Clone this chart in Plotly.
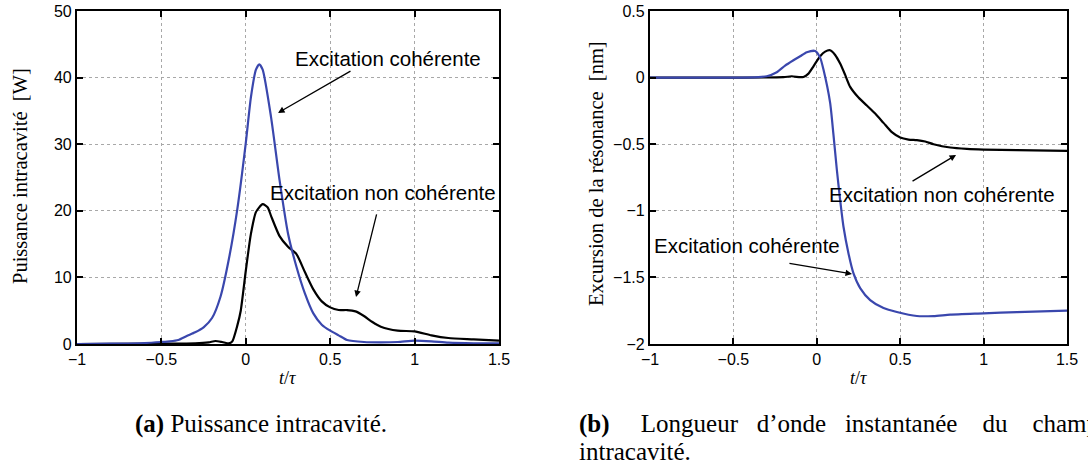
import plotly.graph_objects as go

# ---------------- Data ----------------
# (a) Intracavity power [W]
t_pow_coh = [-1, -0.8, -0.6, -0.5, -0.45, -0.4, -0.35, -0.3, -0.25, -0.2, -0.15, -0.1,
             -0.05, 0, 0.03, 0.06, 0.08, 0.1, 0.15, 0.2, 0.25, 0.3, 0.35, 0.4, 0.45,
             0.5, 0.55, 0.6, 0.7, 0.8, 0.9, 1.0, 1.1, 1.2, 1.35, 1.5]
pow_coh = [0, 0.05, 0.15, 0.3, 0.4, 0.6, 1.2, 1.75, 2.5, 3.9, 7.1, 12.8,
           20.3, 30.2, 37.0, 41.2, 42.0, 41.2, 34.0, 24.6, 16.6, 11.6, 7.6, 4.6, 2.9,
           2.0, 1.3, 0.6, 0.3, 0.25, 0.3, 0.5, 0.4, 0.2, 0.1, 0.1]

t_pow_inc = [-1, -0.5, -0.3, -0.22, -0.18, -0.14, -0.1, -0.08, -0.05, -0.03, 0, 0.03,
             0.06, 0.1, 0.13, 0.15, 0.2, 0.25, 0.3, 0.35, 0.4, 0.45, 0.5, 0.55, 0.6,
             0.65, 0.7, 0.75, 0.8, 0.9, 1.0, 1.1, 1.2, 1.35, 1.5]
pow_inc = [0, 0.05, 0.1, 0.25, 0.45, 0.3, 0.1, 0.4, 2.8, 5.0, 11.0, 16.5,
           19.8, 21.0, 20.5, 19.2, 16.2, 14.6, 13.5, 10.8, 8.2, 6.4, 5.5, 5.1, 5.1,
           4.9, 4.2, 3.3, 2.6, 2.0, 1.9, 1.3, 0.9, 0.7, 0.5]

# (b) Resonance excursion [nm]
t_exc_coh = [-1, -0.5, -0.35, -0.3, -0.24, -0.19, -0.14, -0.1, -0.06, -0.01, 0.02,
             0.04, 0.08, 0.1, 0.12, 0.14, 0.16, 0.19, 0.22, 0.26, 0.32, 0.4, 0.48,
             0.6, 0.7, 0.8, 1.0, 1.2, 1.5]
exc_coh = [0, 0, 0.004, 0.01, 0.04, 0.09, 0.13, 0.16, 0.19, 0.2, 0.15,
           0.06, -0.19, -0.43, -0.69, -0.92, -1.12, -1.32, -1.47, -1.58, -1.67, -1.73, -1.76,
           -1.79, -1.79, -1.78, -1.77, -1.76, -1.75]

t_exc_inc = [-1, -0.5, -0.2, -0.15, -0.1, -0.08, -0.05, -0.02, 0.02, 0.05, 0.08, 0.11,
             0.14, 0.17, 0.2, 0.25, 0.3, 0.35, 0.4, 0.45, 0.5, 0.55, 0.6, 0.65, 0.7,
             0.8, 0.9, 1.0, 1.2, 1.5]
exc_inc = [0, 0, 0.003, 0.01, 0.003, 0.005, 0.03, 0.085, 0.16, 0.195, 0.205, 0.17,
           0.105, 0.02, -0.07, -0.15, -0.21, -0.27, -0.34, -0.41, -0.45, -0.465, -0.47, -0.48, -0.5,
           -0.525, -0.535, -0.54, -0.545, -0.55]

x_ticks = [-1, -0.5, 0, 0.5, 1, 1.5]
y_ticks_a = [0, 10, 20, 30, 40, 50]
y_ticks_b = [-2, -1.5, -1, -0.5, 0, 0.5]

BLUE = "#3a47ad"
BLACK = "#000000"

fig = go.Figure()
line_kw = dict(shape="spline", smoothing=0.6, width=2.2)
fig.add_trace(go.Scatter(x=t_pow_inc, y=pow_inc, mode="lines", line=dict(color=BLACK, **line_kw),
                         xaxis="x", yaxis="y", showlegend=False))
fig.add_trace(go.Scatter(x=t_pow_coh, y=pow_coh, mode="lines", line=dict(color=BLUE, **line_kw),
                         xaxis="x", yaxis="y", showlegend=False))
fig.add_trace(go.Scatter(x=t_exc_inc, y=exc_inc, mode="lines", line=dict(color=BLACK, **line_kw),
                         xaxis="x2", yaxis="y2", showlegend=False))
fig.add_trace(go.Scatter(x=t_exc_coh, y=exc_coh, mode="lines", line=dict(color=BLUE, **line_kw),
                         xaxis="x2", yaxis="y2", showlegend=False))

W, H = 1088, 471
def px_x(p):
    return p / W
def px_y(p):
    return (H - p) / H

tickfont = dict(family="Liberation Sans, Arial, sans-serif", size=16, color="black")
axis_common = dict(showline=True, linecolor="black", linewidth=2.2, mirror="ticks",
                   ticks="inside", ticklen=6, tickwidth=1.5, tickcolor="black",
                   showgrid=True, gridcolor="#a8a8a8", griddash="dot", gridwidth=1,
                   zeroline=False, tickfont=tickfont, automargin=False)

ydom = [px_y(344), px_y(11)]
fig.update_layout(
    width=W, height=H,
    margin=dict(l=0, r=0, t=0, b=0, pad=0, autoexpand=False),
    paper_bgcolor="white", plot_bgcolor="white",
    xaxis=dict(domain=[px_x(77), px_x(499)], range=[-1, 1.5], tickvals=x_ticks,
               anchor="y", **axis_common),
    yaxis=dict(domain=ydom, range=[0, 50], tickvals=y_ticks_a, anchor="x", **axis_common),
    xaxis2=dict(domain=[px_x(650), px_x(1067)], range=[-1, 1.5], tickvals=x_ticks,
                anchor="y2", **axis_common),
    yaxis2=dict(domain=ydom, range=[-2, 0.5], tickvals=y_ticks_b, anchor="x2", **axis_common),
)

ann_font = dict(family="Liberation Sans, Arial, sans-serif", size=20.5, color="black")
serif = "Liberation Serif, Times New Roman, serif"
arrow_kw = dict(text="", showarrow=True, arrowhead=2, arrowsize=1, arrowwidth=1.3,
                arrowcolor="black")
nb = "&nbsp;"

annotations = [
    # left plot
    dict(x=0.842, y=42.9, xref="x", yref="y", text="Excitation cohérente", showarrow=False,
         font=ann_font, xanchor="center", yanchor="middle"),
    dict(x=0.191, y=34.7, ax=0.629, ay=41.1, xref="x", yref="y", axref="x", ayref="y", **arrow_kw),
    dict(x=0.813, y=22.7, xref="x", yref="y", text="Excitation non cohérente", showarrow=False,
         font=ann_font, xanchor="center", yanchor="middle"),
    dict(x=0.653, y=7.06, ax=0.777, ay=19.7, xref="x", yref="y", axref="x", ayref="y", **arrow_kw),
    # right plot
    dict(x=0.751, y=-0.881, xref="x2", yref="y2", text="Excitation non cohérente", showarrow=False,
         font=ann_font, xanchor="center", yanchor="middle"),
    dict(x=0.835, y=-0.581, ax=0.565, ay=-0.784, xref="x2", yref="y2", axref="x2", ayref="y2",
         **arrow_kw),
    dict(x=-0.418, y=-1.264, xref="x2", yref="y2", text="Excitation cohérente", showarrow=False,
         font=ann_font, xanchor="center", yanchor="middle"),
    dict(x=0.211, y=-1.474, ax=-0.173, ay=-1.392, xref="x2", yref="y2", axref="x2", ayref="y2",
         **arrow_kw),
    # axis titles
    dict(x=px_x(20), y=px_y(176), xref="paper", yref="paper",
         text="Puissance intracavité" + nb + " [W]",
         textangle=-90, showarrow=False, xanchor="center", yanchor="middle",
         font=dict(family=serif, size=20.5, color="black")),
    dict(x=px_x(596), y=px_y(174), xref="paper", yref="paper",
         text="Excursion de la résonance" + nb + " [nm]",
         textangle=-90, showarrow=False, xanchor="center", yanchor="middle",
         font=dict(family=serif, size=20.5, color="black")),
    dict(x=px_x(287), y=px_y(378), xref="paper", yref="paper", text="<i>t</i>/<i>τ</i>",
         showarrow=False, xanchor="center", yanchor="middle",
         font=dict(family=serif, size=18, color="black")),
    dict(x=px_x(858), y=px_y(378), xref="paper", yref="paper", text="<i>t</i>/<i>τ</i>",
         showarrow=False, xanchor="center", yanchor="middle",
         font=dict(family=serif, size=18, color="black")),
    # captions
    dict(x=px_x(133), y=px_y(424), xref="paper", yref="paper", xanchor="left", yanchor="middle",
         text="<b>(a)</b> Puissance intracavité.", showarrow=False,
         font=dict(family=serif, size=25, color="black")),
    dict(x=px_x(577), y=px_y(424), xref="paper", yref="paper", xanchor="left", yanchor="middle",
         text="<b>(b)</b>" + nb * 5 + "Longueur" + nb * 3 + "d’onde" + nb * 3 + "instantanée"
              + nb * 4 + "du" + nb * 4 + "champ",
         showarrow=False, font=dict(family=serif, size=25, color="black")),
    dict(x=px_x(577), y=px_y(451), xref="paper", yref="paper", xanchor="left", yanchor="middle",
         text="intracavité.", showarrow=False,
         font=dict(family=serif, size=25, color="black")),
]
fig.update_layout(annotations=annotations)

fig.write_html(
    "out.html",
    config={"displayModeBar": False},
    post_script="document.body.style.margin='0';document.body.style.overflow='hidden';",
)
